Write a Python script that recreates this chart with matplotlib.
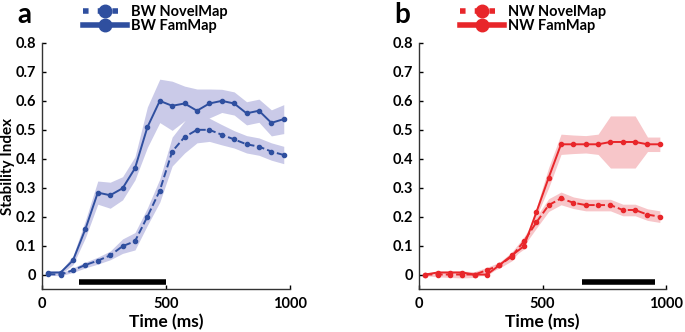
import numpy as np
import matplotlib.pyplot as plt
from matplotlib.lines import Line2D

plt.rcParams['font.family'] = ['Lato', 'DejaVu Sans']
plt.rcParams['font.weight'] = 'bold'

t = np.arange(25, 1000, 50)

# BW (panel a)
bw_fam = [0.007, 0.007, 0.049, 0.157, 0.283, 0.274, 0.298, 0.367, 0.509, 0.600,
          0.583, 0.591, 0.566, 0.591, 0.600, 0.591, 0.557, 0.566, 0.524, 0.537]
bw_fam_err = [0.005, 0.006, 0.015, 0.03, 0.04, 0.045, 0.04, 0.04, 0.07, 0.075,
              0.085, 0.06, 0.075, 0.05, 0.04, 0.04, 0.04, 0.04, 0.045, 0.05]
bw_nov = [0.001, 0.000, 0.015, 0.033, 0.048, 0.066, 0.098, 0.115, 0.200, 0.290,
          0.425, 0.475, 0.500, 0.500, 0.483, 0.467, 0.450, 0.442, 0.425, 0.413]
bw_nov_err = [0.004, 0.004, 0.008, 0.01, 0.012, 0.015, 0.025, 0.03, 0.03, 0.04,
              0.05, 0.055, 0.045, 0.04, 0.035, 0.03, 0.03, 0.03, 0.03, 0.03]

# NW (panel b)
nw_fam = [0.000, 0.007, 0.007, 0.007, 0.000, 0.000, 0.032, 0.066, 0.098, 0.215,
          0.335, 0.450, 0.450, 0.450, 0.450, 0.458, 0.458, 0.458, 0.450, 0.450]
nw_fam_err = [0.003, 0.005, 0.006, 0.006, 0.004, 0.004, 0.006, 0.008, 0.01, 0.015,
              0.035, 0.035, 0.032, 0.03, 0.035, 0.09, 0.09, 0.09, 0.025, 0.025]
nw_nov = [0.000, 0.000, 0.000, 0.000, 0.000, 0.015, 0.032, 0.062, 0.115, 0.180,
          0.240, 0.263, 0.248, 0.240, 0.240, 0.240, 0.223, 0.223, 0.207, 0.200]
nw_nov_err = [0.004, 0.008, 0.01, 0.012, 0.01, 0.01, 0.01, 0.015, 0.015, 0.02,
              0.022, 0.022, 0.02, 0.02, 0.02, 0.02, 0.02, 0.02, 0.02, 0.02]

bar_a = (150, 500)
bar_b = (660, 955)

blue, blue_fill = '#2f4f9f', '#cacae8'
red, red_fill = '#e8262a', '#f7c6c9'

fig = plt.figure(figsize=(6.85, 3.32), dpi=100)
ax_a = fig.add_axes([0.0613, 0.1295, 0.362, 0.741])
ax_b = fig.add_axes([0.6117, 0.1295, 0.3606, 0.741])

panels = [
    (ax_a, bw_fam, bw_fam_err, bw_nov, bw_nov_err, blue, blue_fill, bar_a, 'BW', 'a'),
    (ax_b, nw_fam, nw_fam_err, nw_nov, nw_nov_err, red, red_fill, bar_b, 'NW', 'b'),
]

for ax, fam, fam_e, nov, nov_e, c, cf, bar, name, letter in panels:
    fam, fam_e = np.array(fam), np.array(fam_e)
    nov, nov_e = np.array(nov), np.array(nov_e)
    ax.fill_between(t, fam - fam_e, fam + fam_e, color=cf, lw=0)
    ax.fill_between(t, nov - nov_e, nov + nov_e, color=cf, lw=0)
    ax.plot(t, nov, '--', color=c, lw=1.4, marker='o', ms=3)
    ax.plot(t, fam, '-', color=c, lw=1.4, marker='o', ms=3)
    ax.plot(bar, [-0.025, -0.025], color='black', lw=4, solid_capstyle='butt')

    ax.set_xlim(0, 1000)
    ax.set_ylim(-0.05, 0.8)
    ax.set_xticks([0, 500, 1000])
    ax.set_yticks(np.arange(0, 0.81, 0.1))
    ax.set_yticklabels(['0'] + ['%.1f' % v for v in np.arange(0.1, 0.81, 0.1)])
    ax.spines['top'].set_visible(False)
    ax.spines['right'].set_visible(False)
    for s in ('left', 'bottom'):
        ax.spines[s].set_color('#333333')
        ax.spines[s].set_linewidth(1.0)
    ax.tick_params(direction='in', length=3, labelsize=10.5, width=1, pad=4)
    ax.tick_params(axis='x', pad=6)
    ax.set_xlabel('Time (ms)', fontsize=12.5, fontweight='bold', labelpad=2)

    handles = [
        Line2D([], [], color=c, ls=':', lw=4, marker='o', ms=9),
        Line2D([], [], color=c, ls='-', lw=4, marker='o', ms=9),
    ]
    ax.legend(handles, [name + ' NovelMap', name + ' FamMap'],
              loc='lower left', bbox_to_anchor=(0.165, 1.04), frameon=False,
              fontsize=10.5, handlelength=3.0, handletextpad=0.3,
              labelspacing=0.0, borderpad=0, borderaxespad=0)
    ax.text(-0.1, 1.06, letter, transform=ax.transAxes, fontsize=20,
            fontweight='bold', va='bottom', ha='left')

ax_a.set_ylabel('Stability Index', fontsize=11, fontweight='bold')
ax_a.yaxis.set_label_coords(-0.11, 0.5)

fig.savefig('out.png', dpi=100)
